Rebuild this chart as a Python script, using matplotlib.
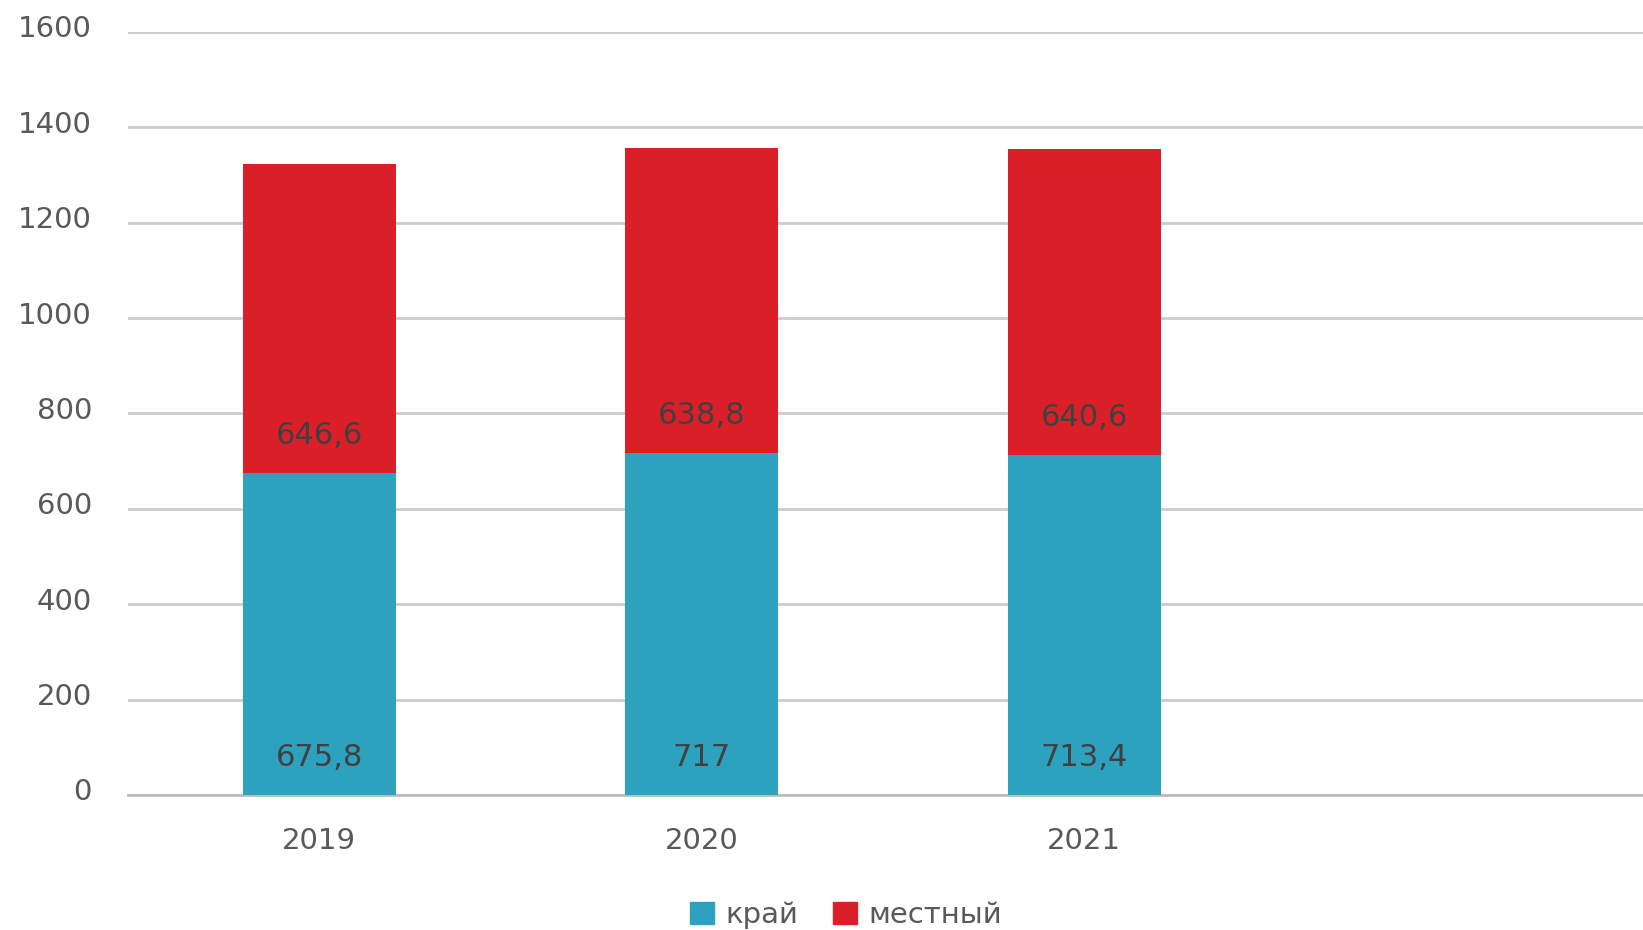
import matplotlib.pyplot as plt
import matplotlib.transforms as mtransforms
import numpy as np

plt.rcParams['font.family'] = ['DejaVu Sans']

years = ["2019", "2020", "2021", ""]
kray = [675.8, 717, 713.4]
mestny = [646.6, 638.8, 640.6]
kray_labels = ["675,8", "717", "713,4"]
mestny_labels = ["646,6", "638,8", "640,6"]
yticks = [0, 200, 400, 600, 800, 1000, 1200, 1400, 1600]

blue = "#2ca2bf"
red = "#da1f28"
text_col = "#595959"

fig = plt.figure(figsize=(16.43, 9.3), dpi=100)
# axes runs a little past the right edge, like the source crop
ax = fig.add_axes([0.0779, 0.1452, 1.009 - 0.0779, 0.9656 - 0.1452])

x = np.arange(len(kray))
ax.bar(x, kray, width=0.4, color=blue, zorder=3)
ax.bar(x, mestny, width=0.4, bottom=kray, color=red, zorder=3)

for i in range(len(kray)):
    ax.annotate(kray_labels[i], (x[i], 0), xytext=(0, 27), textcoords="offset points",
                ha="center", va="center", fontsize=22, color="#404040", zorder=4)
    ax.annotate(mestny_labels[i], (x[i], kray[i]), xytext=(0, 27), textcoords="offset points",
                ha="center", va="center", fontsize=22, color="#404040", zorder=4)

ax.set_xlim(-0.5, len(years) - 0.5)
ax.set_ylim(0, 1600)
ax.set_yticks(yticks)
ax.set_yticklabels([str(v) for v in yticks])
ax.set_xticks(np.arange(len(years)))
ax.set_xticklabels(years)
ax.tick_params(axis="both", length=0, labelsize=21, labelcolor=text_col)
ax.tick_params(axis="y", pad=26)
ax.tick_params(axis="x", pad=23)

# y labels sit slightly above their gridlines
shift = mtransforms.ScaledTranslation(0, 4 / 72, fig.dpi_scale_trans)
for lab in ax.get_yticklabels():
    lab.set_transform(lab.get_transform() + shift)

ax.grid(axis="y", color="#cccccc", linewidth=2, zorder=0)
for s in ["top", "right", "left"]:
    ax.spines[s].set_visible(False)
ax.spines["bottom"].set_color("#bbbbbb")
ax.spines["bottom"].set_linewidth(2)

handles = [plt.Rectangle((0, 0), 1, 1, color=blue), plt.Rectangle((0, 0), 1, 1, color=red)]
fig.legend(handles, ["край", "местный"], loc="center", bbox_to_anchor=(0.515, 0.016),
           ncol=2, frameon=False, fontsize=21, labelcolor=text_col,
           handlelength=0.8, handleheight=0.8, handletextpad=0.4, columnspacing=1.2)

fig.savefig("out.png", dpi=100)
